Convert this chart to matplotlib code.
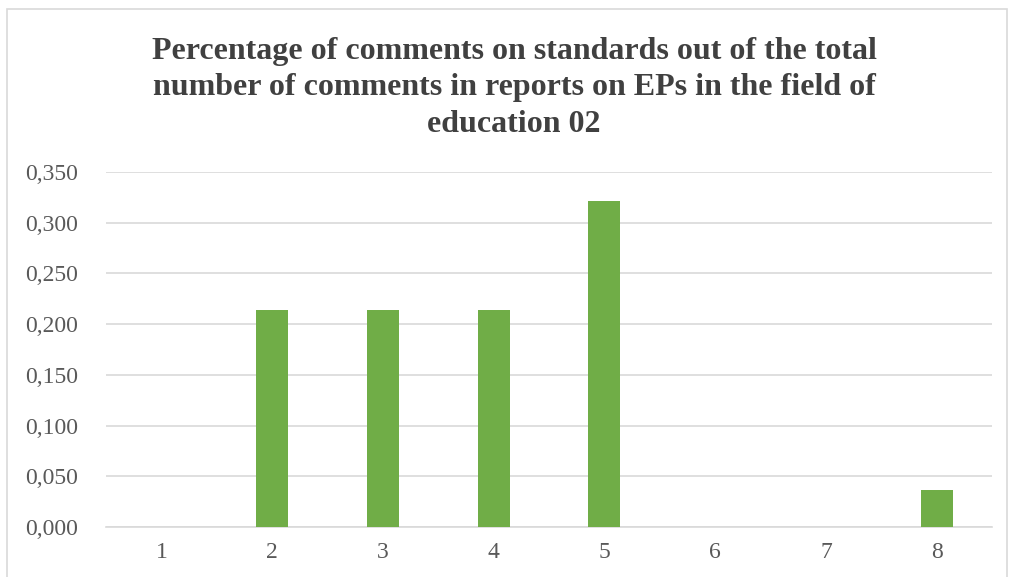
import matplotlib
matplotlib.use("Agg")
import matplotlib.pyplot as plt
from matplotlib.patches import Rectangle
from matplotlib.ticker import FuncFormatter

categories = ["1", "2", "3", "4", "5", "6", "7", "8"]
values = [0.0, 0.214, 0.214, 0.214, 0.321, 0.0, 0.0, 0.036]
title = ("Percentage of comments on standards out of the total\n"
         "number of comments in reports on EPs in the field of\n"
         "education 02")

W, H = 1010, 577
fig = plt.figure(figsize=(W / 100, H / 100), dpi=100)
fig.patch.set_facecolor("white")

# chart border
fig.patches.append(Rectangle((7 / W, -0.05), 1000 / W, 1.05 - 9 / H,
                             transform=fig.transFigure, fill=False,
                             edgecolor="#d9d9d9", linewidth=1.2))

ax = fig.add_axes([106 / W, 1 - 527 / H, (992 - 106) / W, (527 - 172) / H])
x = list(range(1, len(categories) + 1))
ax.bar(x, values, width=0.29, color="#70ad47", zorder=3)

ax.set_xlim(0.5, len(categories) + 0.5)
ax.set_ylim(0, 0.35)
ax.set_yticks([i * 0.05 for i in range(8)])
ax.yaxis.set_major_formatter(FuncFormatter(lambda v, p: f"{v:.3f}".replace(".", ",")))
ax.set_xticks(x)
ax.set_xticklabels(categories)

ax.grid(axis="y", color="#d9d9d9", linewidth=1.2, zorder=0)
for s in ["top", "right", "left"]:
    ax.spines[s].set_visible(False)
ax.spines["bottom"].set_color("#d9d9d9")
ax.spines["bottom"].set_linewidth(1.2)
ax.tick_params(axis="both", length=0, labelsize=17, labelcolor="#595959")
ax.tick_params(axis="y", pad=20)
ax.tick_params(axis="x", pad=11)
for lbl in ax.get_xticklabels() + ax.get_yticklabels():
    lbl.set_fontfamily("Liberation Serif")

fig.text(514 / W, 1 - 88 / H, title, ha="center", va="center",
         fontfamily="Liberation Serif", fontweight="bold", fontsize=23,
         color="#404040", linespacing=1.33)

fig.savefig("out.png", dpi=100)
